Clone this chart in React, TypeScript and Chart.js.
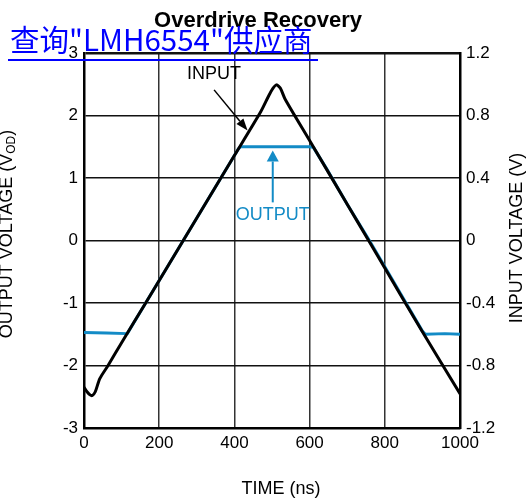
import React, { useEffect, useRef } from "react";
import { Chart, registerables } from "chart.js";

Chart.register(...registerables);

// ---- Data ----
const X_TICK_STEP = 200;
const X_MIN = 0;
const X_MAX = 1000;
const Y_LEFT_MIN = -3;
const Y_LEFT_MAX = 3;
const Y_RIGHT_MIN = -1.2;
const Y_RIGHT_MAX = 1.2;

// Input waveform (time in ns, voltage in V, right axis)
const INPUT_TIME = [0, 8, 16, 22, 30, 42, 64, 100, 164, 200, 264, 300, 400, 470, 490, 502, 512, 522, 535, 600, 700, 757, 800, 900, 1000];
const INPUT_V = [-0.94, -0.968, -0.988, -0.992, -0.968, -0.884, -0.8, -0.654, -0.4, -0.256, 0, 0.144, 0.544, 0.824, 0.92, 0.972, 0.996, 0.976, 0.904, 0.64, 0.232, 0, -0.176, -0.584, -0.98];

// Output waveform (time in ns, differential output in V_OD, left axis)
const OUTPUT_TIME = [0, 60, 115, 164, 264, 364, 410, 416, 500, 600, 610, 645, 700, 757, 800, 900, 908, 960, 1000];
const OUTPUT_VOD = [-1.47, -1.48, -1.49, -1.0, 0, 1.0, 1.46, 1.5, 1.5, 1.5, 1.49, 1.15, 0.58, 0.02, -0.42, -1.45, -1.5, -1.49, -1.5];

const TITLE = "Overdrive Recovery";
const X_TITLE = "TIME (ns)";
const Y_RIGHT_TITLE = "INPUT VOLTAGE (V)";
const Y_LEFT_TITLE_MAIN = "OUTPUT VOLTAGE (V";
const Y_LEFT_TITLE_SUB = "OD";
const Y_LEFT_TITLE_END = ")";
const LINK_TEXT = "查询\"LMH6554\"供应商";

// annotation anchors in data units (x: ns, y: left axis V_OD)
const INPUT_LABEL = { text: "INPUT", x: 346, y: 2.67 };
const INPUT_ARROW = { x1: 346, y1: 2.41, x2: 435, y2: 1.76 };
const OUTPUT_LABEL = { text: "OUTPUT", x: 502, y: 0.4 };
const OUTPUT_ARROW = { x1: 502, y1: 0.61, x2: 502, y2: 1.44 };

const BLACK = "#000000";
const BLUE = "#138bc6";
const FONT = '"Liberation Sans", Arial, Helvetica, sans-serif';

function drawArrow(ctx: CanvasRenderingContext2D, x1: number, y1: number, x2: number, y2: number, color: string, width: number, headLen: number, headW: number) {
  const ang = Math.atan2(y2 - y1, x2 - x1);
  const bx = x2 - headLen * Math.cos(ang);
  const by = y2 - headLen * Math.sin(ang);
  ctx.strokeStyle = color;
  ctx.lineWidth = width;
  ctx.beginPath();
  ctx.moveTo(x1, y1);
  ctx.lineTo(bx, by);
  ctx.stroke();
  ctx.fillStyle = color;
  ctx.beginPath();
  ctx.moveTo(x2, y2);
  ctx.lineTo(bx + (headW / 2) * Math.sin(ang), by - (headW / 2) * Math.cos(ang));
  ctx.lineTo(bx - (headW / 2) * Math.sin(ang), by + (headW / 2) * Math.cos(ang));
  ctx.closePath();
  ctx.fill();
}

const overlayPlugin = {
  id: "overlay",
  afterDraw(chart: any) {
    const ctx: CanvasRenderingContext2D = chart.ctx;
    const x = chart.scales.x;
    const y = chart.scales.y;
    ctx.save();
    // Title
    ctx.fillStyle = BLACK;
    ctx.font = `bold 22px ${FONT}`;
    ctx.textAlign = "center";
    ctx.textBaseline = "alphabetic";
    ctx.fillText(TITLE, 258, 27);

    // X title
    ctx.font = `18px ${FONT}`;
    ctx.textBaseline = "middle";
    ctx.fillText(X_TITLE, 281, 489);

    // Right title
    ctx.save();
    ctx.translate(517, 238);
    ctx.rotate(-Math.PI / 2);
    ctx.textAlign = "center";
    ctx.textBaseline = "middle";
    ctx.fillText(Y_RIGHT_TITLE, 0, 0);
    ctx.restore();

    // Left title with subscript
    ctx.save();
    const mainFont = `18px ${FONT}`;
    const subFont = `12px ${FONT}`;
    ctx.font = mainFont;
    const w1 = ctx.measureText(Y_LEFT_TITLE_MAIN).width;
    const w3 = ctx.measureText(Y_LEFT_TITLE_END).width;
    ctx.font = subFont;
    const w2 = ctx.measureText(Y_LEFT_TITLE_SUB).width;
    const total = w1 + w2 + w3;
    ctx.translate(12, 234);
    ctx.rotate(-Math.PI / 2);
    ctx.textAlign = "left";
    ctx.textBaseline = "alphabetic";
    let cx = -total / 2;
    ctx.font = mainFont;
    ctx.fillText(Y_LEFT_TITLE_MAIN, cx, 0);
    cx += w1;
    ctx.font = subFont;
    ctx.fillText(Y_LEFT_TITLE_SUB, cx, 3);
    cx += w2;
    ctx.font = mainFont;
    ctx.fillText(Y_LEFT_TITLE_END, cx, 0);
    ctx.restore();

    // Annotations
    ctx.font = `18px ${FONT}`;
    ctx.textAlign = "center";
    ctx.textBaseline = "middle";
    ctx.fillStyle = BLACK;
    ctx.fillText(INPUT_LABEL.text, x.getPixelForValue(INPUT_LABEL.x), y.getPixelForValue(INPUT_LABEL.y));
    drawArrow(ctx,
      x.getPixelForValue(INPUT_ARROW.x1), y.getPixelForValue(INPUT_ARROW.y1),
      x.getPixelForValue(INPUT_ARROW.x2), y.getPixelForValue(INPUT_ARROW.y2),
      BLACK, 1.5, 12, 9);

    ctx.fillStyle = BLUE;
    ctx.fillText(OUTPUT_LABEL.text, x.getPixelForValue(OUTPUT_LABEL.x), y.getPixelForValue(OUTPUT_LABEL.y));
    drawArrow(ctx,
      x.getPixelForValue(OUTPUT_ARROW.x1), y.getPixelForValue(OUTPUT_ARROW.y1),
      x.getPixelForValue(OUTPUT_ARROW.x2), y.getPixelForValue(OUTPUT_ARROW.y2),
      BLUE, 2, 11, 12);
    ctx.restore();
  },
};

function fmtRight(v: number) {
  const s = (Math.round(v * 10) / 10).toFixed(1);
  if (s === "0.0" || s === "-0.0") return "0";
  return s;
}

export default function App() {
  const canvasRef = useRef<HTMLCanvasElement | null>(null);

  useEffect(() => {
    if (!canvasRef.current) return;
    const inputPts = INPUT_TIME.map((t, i) => ({ x: t, y: INPUT_V[i] }));
    const outputPts = OUTPUT_TIME.map((t, i) => ({ x: t, y: OUTPUT_VOD[i] }));
    const chart = new Chart(canvasRef.current, {
      type: "line",
      data: {
        datasets: [
          {
            label: "INPUT",
            data: inputPts,
            yAxisID: "y1",
            borderColor: BLACK,
            borderWidth: 3,
            pointRadius: 0,
            tension: 0.25,
            borderJoinStyle: "round",
            borderCapStyle: "round",
            fill: false,
          },
          {
            label: "OUTPUT",
            data: outputPts,
            yAxisID: "y",
            borderColor: BLUE,
            borderWidth: 3,
            pointRadius: 0,
            tension: 0,
            borderJoinStyle: "round",
            fill: false,
          },
        ],
      },
      options: {
        responsive: false,
        animation: false,
        devicePixelRatio: 1,
        layout: { padding: { top: 53, left: 0, right: 0, bottom: 0 } },
        plugins: {
          legend: { display: false },
          title: { display: false },
          tooltip: { enabled: false },
        },
        scales: {
          x: {
            type: "linear",
            min: X_MIN,
            max: X_MAX,
            ticks: {
              stepSize: X_TICK_STEP,
              color: BLACK,
              font: { family: FONT, size: 17 },
              padding: 5,
              maxRotation: 0,
              callback: (v: any) => String(Math.round(Number(v))),
            },
            grid: { color: "#333333", lineWidth: 1.5, drawTicks: false },
            border: { display: true, color: BLACK, width: 2.5 },
            afterFit: (s: any) => { s.height = 75; },
          },
          y: {
            type: "linear",
            position: "left",
            min: Y_LEFT_MIN,
            max: Y_LEFT_MAX,
            ticks: {
              stepSize: 1,
              color: BLACK,
              font: { family: FONT, size: 17 },
              padding: 6,
            },
            grid: {
              color: "#111111",
              lineWidth: (c: any) => (c.tick && c.tick.value === Y_LEFT_MAX ? 2.5 : 1.5),
              drawTicks: false,
            },
            border: { display: true, color: BLACK, width: 2.5 },
            afterFit: (s: any) => { s.width = 84; },
          },
          y1: {
            type: "linear",
            position: "right",
            min: Y_RIGHT_MIN,
            max: Y_RIGHT_MAX,
            ticks: {
              stepSize: 0.4,
              color: BLACK,
              font: { family: FONT, size: 17 },
              padding: 6,
              callback: (v: any) => fmtRight(Number(v)),
            },
            grid: { display: false, drawTicks: false },
            border: { display: true, color: BLACK, width: 2.5 },
            afterFit: (s: any) => { s.width = 72; },
          },
        },
      },
      plugins: [overlayPlugin],
    } as any);
    return () => chart.destroy();
  }, []);

  return (
    <div style={{ position: "absolute", left: 0, top: 0, width: 532, height: 503, background: "#fff" }}>
      <canvas ref={canvasRef} width={532} height={503} style={{ display: "block", width: 532, height: 503 }} />
      <a
        href="#"
        style={{
          position: "absolute",
          left: 8,
          top: 17,
          paddingLeft: 2,
          paddingRight: 6,
          fontFamily: '"Noto Sans CJK SC", "Noto Sans", sans-serif',
          fontSize: 29.5,
          lineHeight: "normal",
          color: "#0000ff",
          textDecoration: "none",
          borderBottom: "2px solid #0000ff",
          whiteSpace: "nowrap",
        }}
      >
        {LINK_TEXT}
      </a>
    </div>
  );
}
